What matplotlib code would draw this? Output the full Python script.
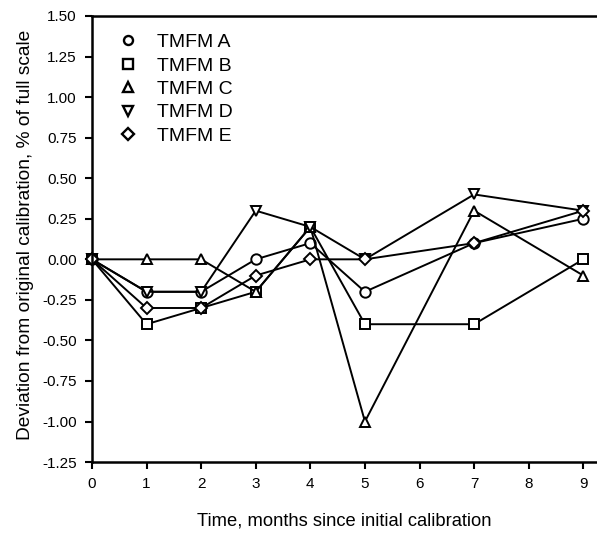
import matplotlib.pyplot as plt

plt.rcParams['font.family'] = ['Liberation Sans', 'DejaVu Sans']

# Months of measurement
months = [0, 1, 2, 3, 4, 5, 7, 9]

# Deviation from original calibration, % of full scale
tmfm_a = [0, -0.2, -0.2, 0.0, 0.1, -0.2, 0.1, 0.25]
tmfm_b = [0, -0.4, -0.3, -0.2, 0.2, -0.4, -0.4, 0.0]
tmfm_c = [0, 0.0, 0.0, -0.2, 0.2, -1.0, 0.3, -0.1]
tmfm_d = [0, -0.2, -0.2, 0.3, 0.2, 0.0, 0.4, 0.3]
tmfm_e = [0, -0.3, -0.3, -0.1, 0.0, 0.0, 0.1, 0.3]

labels = ['TMFM A', 'TMFM B', 'TMFM C', 'TMFM D', 'TMFM E']
series = [tmfm_a, tmfm_b, tmfm_c, tmfm_d, tmfm_e]
markers = ['o', 's', '^', 'v', 'D']
sizes = [7.5, 7.5, 7.5, 7.5, 6.5]

y_ticks = [1.5, 1.25, 1.0, 0.75, 0.5, 0.25, 0.0, -0.25, -0.5, -0.75, -1.0, -1.25]

fig = plt.figure(figsize=(5.97, 5.33), dpi=100)
ax = fig.add_axes([0.154, 0.133, 0.846, 0.837])

for vals, lab, m, s in zip(series, labels, markers, sizes):
    ax.plot(months, vals, color='black', lw=1.4, marker=m, ms=s,
            mfc='white', mec='black', mew=1.4, label=lab, clip_on=False)

ax.set_xlim(0, 9.25)
ax.set_ylim(-1.25, 1.5)
ax.set_xticks(range(10))
ax.set_yticks(y_ticks)
ax.set_yticklabels([f'{v:.2f}' for v in y_ticks])
ax.tick_params(direction='out', length=5, width=1.5, labelsize=11, pad=6)

for side in ['left', 'bottom', 'top']:
    ax.spines[side].set_linewidth(1.8)
ax.spines['right'].set_visible(False)

ax.set_xlabel('Time, months since initial calibration', fontsize=13.2, labelpad=15)
ax.set_ylabel('Deviation from original calibration, % of full scale', fontsize=13.8)
ax.yaxis.set_label_coords(-0.115, 0.51)

leg = ax.legend(loc='upper left', bbox_to_anchor=(0.022, 1.0), frameon=False,
                fontsize=14, handlelength=0.8, handletextpad=1.1,
                labelspacing=0.3, numpoints=1)
for h in leg.legend_handles:
    h.set_linestyle('none')
    h.set_markersize(6.5)
    h.set_markeredgewidth(1.7)

fig.savefig('out.png', dpi=100)
